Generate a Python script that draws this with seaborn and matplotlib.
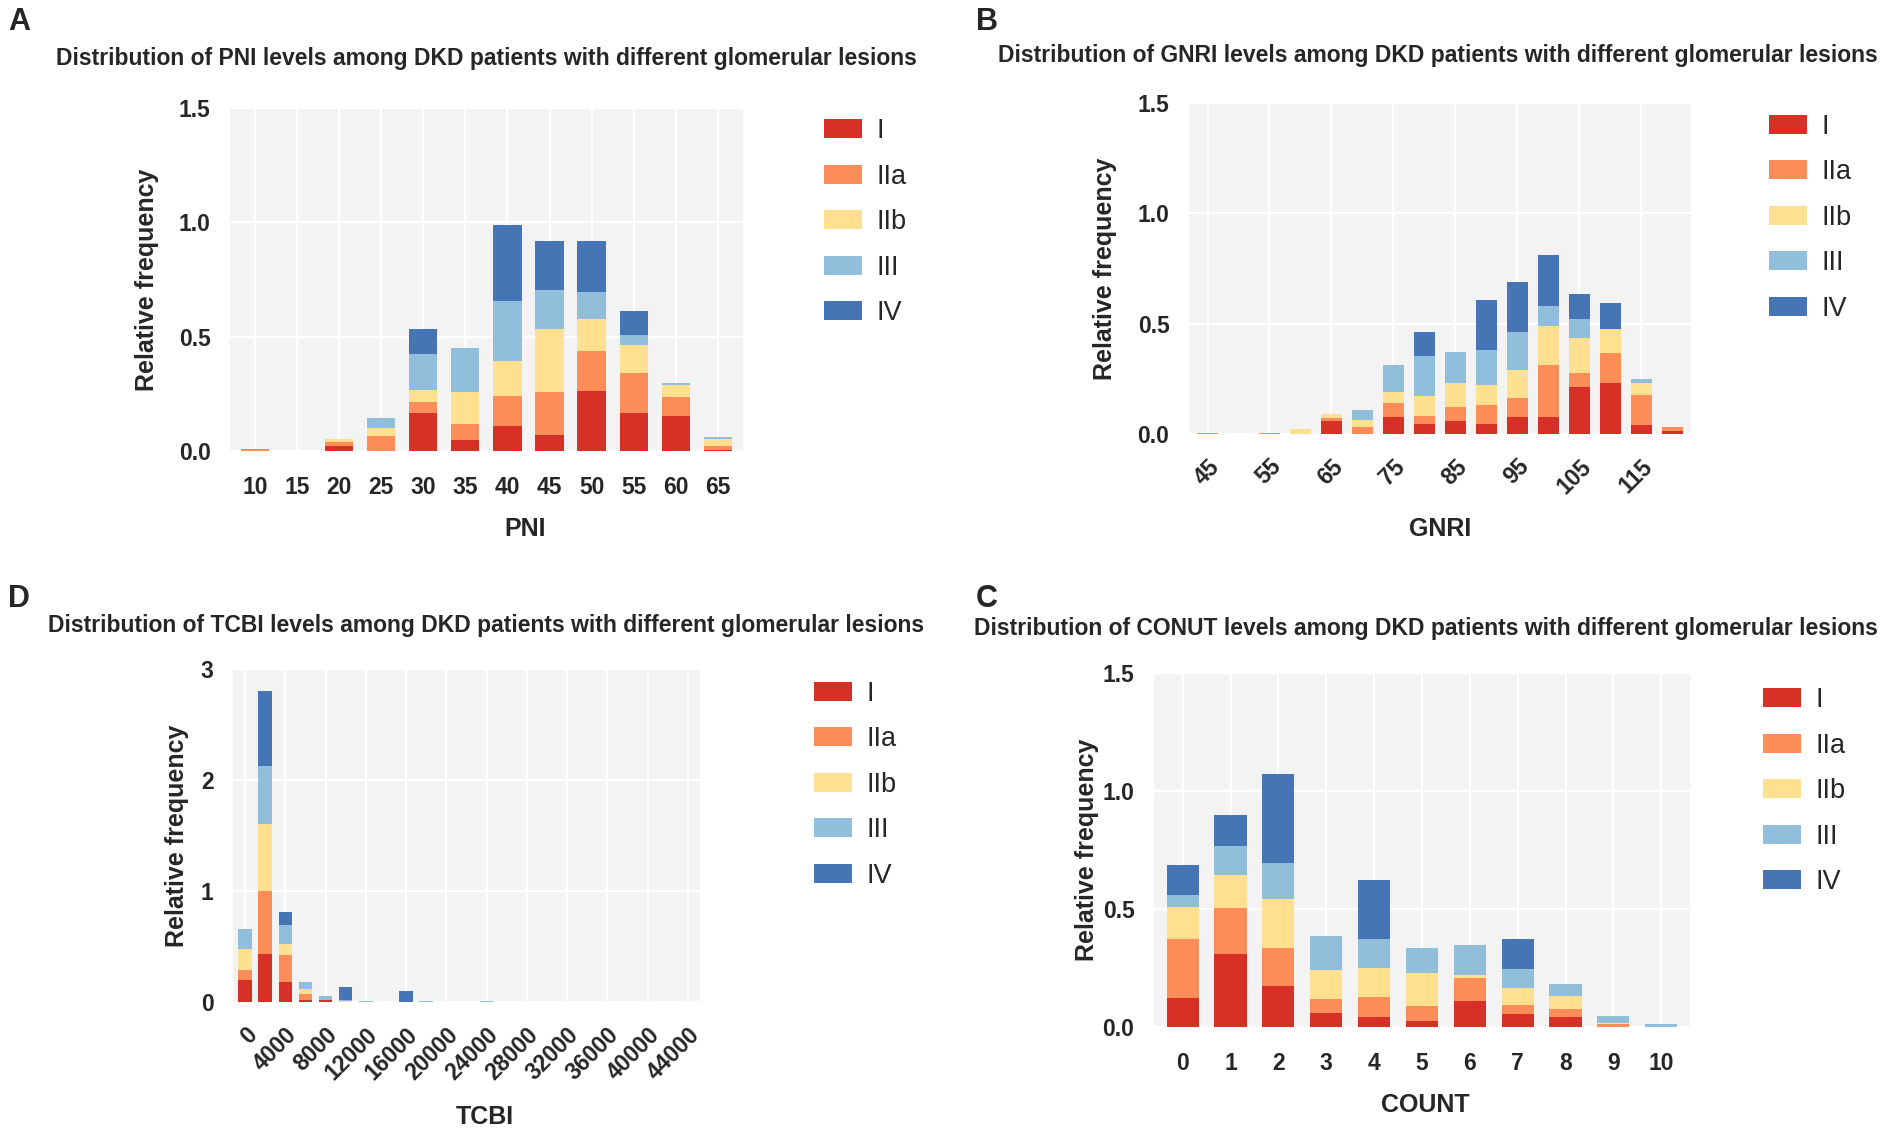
import numpy as np
import pandas as pd
import matplotlib
matplotlib.use("Agg")
import matplotlib.pyplot as plt
import seaborn as sns

# lesion classes and their colours
grades = ["I", "IIa", "IIb", "III", "IV"]
grade_colors = ["#D73027", "#FC8D59", "#FEE090", "#91BFDB", "#4575B4"]

# A - PNI
pni_levels = [10, 15, 20, 25, 30, 35, 40, 45, 50, 55, 60, 65]
pni_I = [0, 0, 0.02, 0, 0.165, 0.05, 0.11, 0.07, 0.262, 0.166, 0.151, 0.005]
pni_IIa = [0.008, 0, 0.02, 0.065, 0.05, 0.07, 0.13, 0.19, 0.175, 0.177, 0.086, 0.015]
pni_IIb = [0, 0, 0.012, 0.035, 0.05, 0.14, 0.155, 0.274, 0.139, 0.12, 0.05, 0.032]
pni_III = [0, 0, 0, 0.043, 0.16, 0.19, 0.26, 0.168, 0.119, 0.044, 0.009, 0.01]
pni_IV = [0, 0, 0, 0, 0.11, 0, 0.335, 0.218, 0.222, 0.105, 0, 0]

# B - GNRI
gnri_levels = [45, 50, 55, 60, 65, 70, 75, 80, 85, 90, 95, 100, 105, 110, 115, 120]
gnri_I = [0, 0, 0, 0, 0.061, 0, 0.076, 0.044, 0.06, 0.044, 0.076, 0.076, 0.214, 0.229, 0.043, 0.012]
gnri_IIa = [0.006, 0, 0.006, 0, 0.01, 0.031, 0.065, 0.036, 0.062, 0.086, 0.088, 0.237, 0.061, 0.138, 0.136, 0.022]
gnri_IIb = [0, 0, 0, 0.021, 0.019, 0.033, 0.05, 0.091, 0.107, 0.09, 0.125, 0.176, 0.161, 0.11, 0.053, 0]
gnri_III = [0, 0, 0, 0, 0, 0.046, 0.124, 0.181, 0.141, 0.161, 0.173, 0.092, 0.084, 0, 0.016, 0]
gnri_IV = [0, 0, 0, 0, 0, 0, 0, 0.11, 0, 0.226, 0.229, 0.228, 0.113, 0.118, 0, 0]

# D - TCBI
tcbi_levels = list(range(0, 44001, 2000))
tcbi_I = [0.195, 0.429, 0.18, 0.021, 0.015, 0, 0, 0, 0, 0, 0, 0, 0, 0, 0, 0, 0, 0, 0, 0, 0, 0, 0]
tcbi_IIa = [0.096, 0.571, 0.246, 0.048, 0.006, 0, 0, 0, 0, 0, 0, 0, 0, 0, 0, 0, 0, 0, 0, 0, 0, 0, 0]
tcbi_IIb = [0.189, 0.607, 0.1, 0.051, 0, 0.012, 0, 0, 0, 0, 0, 0, 0, 0, 0, 0, 0, 0, 0, 0, 0, 0, 0]
tcbi_III = [0.178, 0.516, 0.165, 0.06, 0.033, 0.008, 0.006, 0, 0, 0.006, 0, 0, 0.006, 0, 0, 0, 0, 0, 0, 0, 0, 0, 0]
tcbi_IV = [0, 0.677, 0.12, 0, 0, 0.115, 0, 0, 0.096, 0, 0, 0, 0, 0, 0, 0, 0, 0, 0, 0, 0, 0, 0]

# C - CONUT
conut_levels = [0, 1, 2, 3, 4, 5, 6, 7, 8, 9, 10]
conut_I = [0.123, 0.309, 0.174, 0.058, 0.041, 0.027, 0.109, 0.057, 0.041, 0, 0]
conut_IIa = [0.248, 0.195, 0.162, 0.061, 0.086, 0.061, 0.098, 0.038, 0.037, 0.012, 0]
conut_IIb = [0.139, 0.139, 0.208, 0.122, 0.124, 0.139, 0.015, 0.069, 0.052, 0.005, 0]
conut_III = [0.049, 0.126, 0.153, 0.143, 0.12, 0.107, 0.124, 0.084, 0.051, 0.031, 0.012]
conut_IV = [0.127, 0.128, 0.377, 0, 0.252, 0, 0, 0.125, 0, 0, 0]

sns.set_style("darkgrid", {"axes.facecolor": "#F3F3F3", "grid.color": "white"})
plt.rcParams["font.family"] = ["Liberation Sans", "DejaVu Sans"]
plt.rcParams["grid.linewidth"] = 1.6

NARROW = ["Liberation Sans Narrow", "Liberation Sans", "DejaVu Sans"]


def stacked_panel(fig, rect, levels, layers, ylim, yticks, ylabels, xlabel,
                  every=1, rotate=False, xlab_pos=(0.5, -0.2), ylab_x=-0.16,
                  leg_anchor=(0.9, 0.9)):
    ax = fig.add_axes(rect)
    # long table with cumulative heights, drawn tallest first
    rows = []
    cum = np.zeros(len(levels))
    for g, vals in zip(grades, layers):
        cum = cum + np.array(vals)
        for lv, c in zip(levels, cum):
            rows.append({"level": str(lv), "grade": g, "height": c})
    df = pd.DataFrame(rows)
    sns.barplot(data=df, x="level", y="height", hue="grade",
                order=[str(v) for v in levels], hue_order=grades[::-1],
                palette=dict(zip(grades, grade_colors)), dodge=False,
                width=0.67, saturation=1, linewidth=0, errorbar=None, ax=ax)

    n = len(levels)
    ax.set_xlim(-0.6, n - 0.4)
    ax.set_ylim(*ylim)
    ax.set_yticks(yticks)
    ax.set_yticklabels(ylabels, fontsize=16.5, fontweight="bold")
    idx = list(range(0, n, every))
    ax.set_xticks(idx)
    if rotate:
        ax.set_xticklabels([str(levels[i]) for i in idx], fontsize=16.5,
                           fontweight="bold", rotation=45, ha="right",
                           va="top", rotation_mode="anchor")
        ax.tick_params(axis="x", length=0, pad=15)
    else:
        ax.set_xticklabels([str(levels[i]) for i in idx], fontsize=16.5,
                           fontweight="bold")
        ax.tick_params(axis="x", length=0, pad=18)
    ax.tick_params(axis="y", length=0, pad=14)
    ax.grid(True, axis="both")
    ax.set_axisbelow(True)
    for s in ax.spines.values():
        s.set_visible(False)

    ax.set_xlabel(xlabel, fontsize=18, fontweight="bold")
    ax.xaxis.set_label_coords(*xlab_pos)
    ax.xaxis.label.set_va("center")
    ax.set_ylabel("Relative frequency", fontsize=18, fontweight="bold")
    ax.yaxis.set_label_coords(ylab_x, 0.5)
    ax.yaxis.label.set_va("center")

    # legend in I..IV order
    leg = ax.get_legend()
    handles = list(leg.legend_handles)
    labels = [t.get_text() for t in leg.texts]
    leg.remove()
    order = [labels.index(g) for g in grades]
    ax.legend([handles[i] for i in order], grades, loc="upper left",
              bbox_to_anchor=leg_anchor, bbox_transform=fig.transFigure,
              frameon=False, fontsize=19.5, handlelength=1.4, handleheight=0.7,
              labelspacing=0.72, handletextpad=0.55, borderpad=0,
              borderaxespad=0)
    return ax


fig = plt.figure(figsize=(19.02, 11.38), dpi=100)
fig.patch.set_facecolor("white")

half_ticks = [0, 0.5, 1.0, 1.5]
half_labels = ["0.0", "0.5", "1.0", "1.5"]

# A
stacked_panel(fig, [0.1209, 0.6037, 0.2697, 0.3014], pni_levels,
              [pni_I, pni_IIa, pni_IIb, pni_III, pni_IV], (0, 1.5),
              half_ticks, half_labels, "PNI",
              xlab_pos=(0.575, -0.227), ylab_x=-0.162,
              leg_anchor=(0.4332, 0.896))
# B
stacked_panel(fig, [0.6251, 0.6186, 0.2639, 0.2909], gnri_levels,
              [gnri_I, gnri_IIa, gnri_IIb, gnri_III, gnri_IV], (0, 1.5),
              half_ticks, half_labels, "GNRI", every=2, rotate=True,
              xlab_pos=(0.5, -0.287), ylab_x=-0.167,
              leg_anchor=(0.9301, 0.900))
# D
stacked_panel(fig, [0.1225, 0.1195, 0.2455, 0.2926], tcbi_levels,
              [tcbi_I, tcbi_IIa, tcbi_IIb, tcbi_III, tcbi_IV], (0, 3),
              [0, 1, 2, 3], ["0", "1", "2", "3"], "TCBI", every=2, rotate=True,
              xlab_pos=(0.54, -0.345), ylab_x=-0.12,
              leg_anchor=(0.428, 0.402))
# C
stacked_panel(fig, [0.6067, 0.0975, 0.2818, 0.3111], conut_levels,
              [conut_I, conut_IIa, conut_IIb, conut_III, conut_IV], (0, 1.5),
              half_ticks, half_labels, "COUNT",
              xlab_pos=(0.507, -0.22), ylab_x=-0.125,
              leg_anchor=(0.927, 0.396))

titles = [
    (0.2555, 0.949, "Distribution of PNI levels among DKD patients with different glomerular lesions"),
    (0.756, 0.951, "Distribution of GNRI levels among DKD patients with different glomerular lesions"),
    (0.2555, 0.450, "Distribution of TCBI levels among DKD patients with different glomerular lesions"),
    (0.7497, 0.448, "Distribution of CONUT levels among DKD patients with different glomerular lesions"),
]
for x, y, t in titles:
    fig.text(x, y, t, ha="center", va="center", fontsize=16.5,
             fontweight="bold", family=NARROW)

for x, y, t in [(0.01, 0.9807, "A"), (0.519, 0.9807, "B"),
                (0.01, 0.474, "D"), (0.519, 0.474, "C")]:
    fig.text(x, y, t, ha="center", va="center", fontsize=22,
             fontweight="bold", family=NARROW)

fig.savefig("out.png", dpi=100, facecolor="white")
